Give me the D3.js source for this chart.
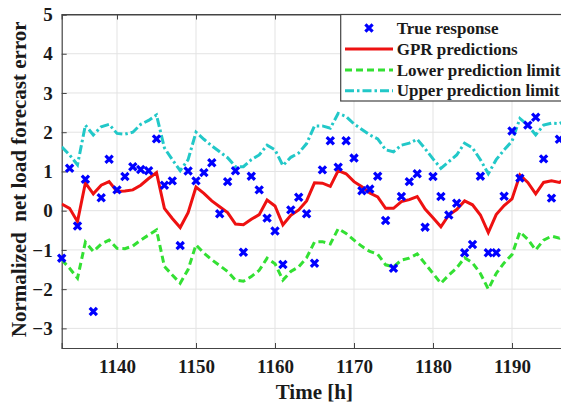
<!DOCTYPE html>
<html lang="en">
<head>
    <meta charset="UTF-8">
    <script src="https://d3js.org/d3.v7.min.js"></script>
    <title>GPR forecast error</title>
    <style>
        body { margin: 0; background: white; }
        svg { display: block; font-family: "Liberation Serif", "Times New Roman", serif; font-weight: bold; }
    </style>
</head>
<body>
    <div id="chart"></div>
    <script>
        // hourly time axis
        const hours = d3.range(1133, 1198);

        // GPR predictions (1133..1197)
        const gprPred = [
            0.17, 0.06, -0.28, 0.71, 0.43, 0.65, 0.74, 0.49, 0.50, 0.53,
            0.65, 0.82, 0.97, 0.06, -0.20, -0.43, -0.05, 0.60, 0.44, 0.25,
            0.10, -0.05, -0.34, -0.36, -0.22, -0.10, 0.27, 0.12, -0.36, -0.12,
            0.02, 0.25, 0.71, 0.70, 0.62, 1.02, 0.94, 0.74, 0.61, 0.45,
            0.35, 0.06, 0.06, 0.23, 0.28, 0.36, 0.04, -0.18, -0.41, -0.11,
            0.03, 0.25, 0.15, -0.11, -0.56, -0.10, 0.13, 0.30, 0.91, 0.72,
            0.43, 0.72, 0.76, 0.72, 0.85
        ];

        const upperLimit = [
            1.63, 1.42, 1.17, 2.18, 1.93, 2.14, 2.20, 1.97, 1.95, 2.00,
            2.20, 2.30, 2.44, 1.60, 1.30, 1.02, 1.30, 2.00, 1.82, 1.65,
            1.50, 1.35, 1.12, 1.12, 1.30, 1.42, 1.67, 1.55, 1.15, 1.36,
            1.47, 1.71, 2.16, 2.16, 2.10, 2.48, 2.40, 2.21, 2.07, 1.93,
            1.83, 1.55, 1.50, 1.67, 1.72, 1.82, 1.58, 1.32, 1.08, 1.25,
            1.42, 1.72, 1.60, 1.30, 0.94, 1.30, 1.55, 1.77, 2.35, 2.18,
            1.93, 2.18, 2.23, 2.22, 2.30
        ];

        const lowerLimit = [
            -1.25, -1.47, -1.72, -0.80, -1.04, -0.85, -0.75, -0.96, -0.97, -0.90,
            -0.75, -0.62, -0.49, -1.42, -1.64, -1.85, -1.50, -0.87, -1.08, -1.25,
            -1.40, -1.55, -1.77, -1.80, -1.68, -1.52, -1.21, -1.35, -1.77, -1.55,
            -1.43, -1.20, -0.80, -0.79, -0.85, -0.46, -0.58, -0.75, -0.91, -1.04,
            -1.11, -1.38, -1.43, -1.26, -1.21, -1.10, -1.35, -1.60, -1.85, -1.64,
            -1.46, -1.20, -1.33, -1.60, -2.00, -1.60, -1.33, -1.12, -0.54, -0.73,
            -1.00, -0.75, -0.65, -0.70, -0.60
        ];

        // true response (1133..1196)
        const trueResp = [
            -1.21, 1.08, -0.39, 0.80, -2.57, 0.33, 1.31, 0.53, 0.87, 1.12,
            1.05, 1.02, 1.83, 0.65, 0.76, -0.89, 1.01, 0.76, 0.97, 1.22,
            -0.08, 0.74, 1.02, -1.06, 0.88, 0.53, -0.19, -0.52, -1.37, 0.02,
            0.34, -0.08, -1.34, 1.04, 1.78, 1.11, 1.78, 1.34, 0.51, 0.55,
            0.88, -0.25, -1.47, 0.36, 0.74, 0.94, -0.42, 0.87, 0.36, -0.11,
            0.19, -1.07, -0.86, 0.88, -1.07, -1.07, 0.37, 2.03, 0.83, 2.18,
            2.38, 1.32, 0.32, 1.82
        ];

        const xTicks = [1140, 1150, 1160, 1170, 1180, 1190];
        const yTicks = [-3, -2, -1, 0, 1, 2, 3, 4, 5];

        const legendItems = ["True response", "GPR predictions", "Lower prediction limit", "Upper prediction limit"];

        /*------------------- Setup --------------------*/
        const width = 561, height = 406;
        const plot = { left: 61.7, top: 14.5, bottom: 348 };

        const svg = d3.select("#chart").append("svg")
            .attr("width", width)
            .attr("height", height);

        const x = d3.scaleLinear().domain([1133, 1200]).range([plot.left, plot.left + 67 * 7.9]);
        const y = d3.scaleLinear().domain([-3.5, 5]).range([plot.bottom, plot.top]);
        const plotRight = x.range()[1];

        svg.append("defs").append("clipPath").attr("id", "clip")
            .append("rect")
            .attr("x", plot.left).attr("y", plot.top)
            .attr("width", plotRight - plot.left).attr("height", plot.bottom - plot.top);

        // grid
        const grid = svg.append("g");
        grid.selectAll(".gx").data(xTicks).enter().append("line")
            .attr("x1", d => x(d)).attr("x2", d => x(d))
            .attr("y1", plot.top).attr("y2", plot.bottom)
            .attr("stroke", "#e3e3e3").attr("stroke-width", 1);
        grid.selectAll(".gy").data(yTicks).enter().append("line")
            .attr("x1", plot.left).attr("x2", plotRight)
            .attr("y1", d => y(d)).attr("y2", d => y(d))
            .attr("stroke", "#e3e3e3").attr("stroke-width", 1);

        // axes
        const xAxis = d3.axisBottom(x).tickValues(xTicks).tickSize(-5).tickPadding(12).tickFormat(d3.format("d"));
        const gx = svg.append("g").attr("transform", `translate(0,${plot.bottom})`).call(xAxis);
        const xTop = d3.axisTop(x).tickValues(xTicks).tickSize(-5).tickFormat("");
        const gxt = svg.append("g").attr("transform", `translate(0,${plot.top})`).call(xTop);
        const yAxis = d3.axisLeft(y).tickValues(yTicks).tickSize(-5).tickPadding(9).tickFormat(d3.format("d"));
        const gy = svg.append("g").attr("transform", `translate(${plot.left},0)`).call(yAxis);

        [gx, gxt, gy].forEach(g => {
            g.select(".domain").attr("stroke", "#444").attr("stroke-width", 1.2);
            g.selectAll(".tick line").attr("stroke", "#444");
            g.selectAll("text")
                .attr("fill", "#1a1a1a")
                .style("font-family", "'Liberation Serif', 'Times New Roman', serif")
                .style("font-weight", "bold")
                .style("font-size", "19px");
        });

        svg.append("text")
            .attr("x", (plot.left + 561) / 2 + 3)
            .attr("y", 399)
            .attr("text-anchor", "middle")
            .attr("fill", "#1a1a1a")
            .style("font-size", "21px")
            .text("Time [h]");

        svg.append("text")
            .attr("transform", `translate(26,${(plot.top + plot.bottom) / 2 - 2}) rotate(-90)`)
            .attr("text-anchor", "middle")
            .attr("fill", "#1a1a1a")
            .style("font-size", "21px")
            .style("white-space", "pre")
            .text("Normalized  net load forecast error");

        /*------------------- Marks --------------------*/
        const body = svg.append("g").attr("clip-path", "url(#clip)");

        const xMark = (g, cx, cy, r) => {
            g.append("path")
                .attr("d", `M${cx - r},${cy - r}L${cx + r},${cy + r}M${cx - r},${cy + r}L${cx + r},${cy - r}`)
                .attr("stroke", "#0000ff")
                .attr("stroke-width", 3.2)
                .attr("fill", "none");
        };

        const markers = svg.append("g");
        trueResp.forEach((v, i) => xMark(markers, x(hours[i]), y(v), 3.6));

        const line = vals => d3.line()
            .x((d, i) => x(hours[i]))
            .y(d => y(d))(vals);

        body.append("path").attr("d", line(gprPred))
            .attr("fill", "none").attr("stroke", "#ee1111").attr("stroke-width", 3);
        body.append("path").attr("d", line(lowerLimit))
            .attr("fill", "none").attr("stroke", "#33e033").attr("stroke-width", 3)
            .attr("stroke-dasharray", "7,4");
        body.append("path").attr("d", line(upperLimit))
            .attr("fill", "none").attr("stroke", "#22c8c8").attr("stroke-width", 3)
            .attr("stroke-dasharray", "9,3,2.5,3");

        // top border line drawn across
        svg.append("line")
            .attr("x1", plot.left).attr("x2", plotRight)
            .attr("y1", plot.top).attr("y2", plot.top)
            .attr("stroke", "#444").attr("stroke-width", 1.2);

        /*------------------- Legend --------------------*/
        const legend = svg.append("g");
        legend.append("rect")
            .attr("x", 340.7).attr("y", plot.top)
            .attr("width", 300).attr("height", 101 - plot.top)
            .attr("fill", "white").attr("stroke", "#444").attr("stroke-width", 1.2);

        const rowY = [28, 49, 70, 90.7];
        xMark(legend, 369, rowY[0], 3.6);
        const sample = [null,
            { color: "#ee1111", dash: null },
            { color: "#33e033", dash: "7,4" },
            { color: "#22c8c8", dash: "9,3,2.5,3" }];
        sample.forEach((s, i) => {
            if (!s) return;
            legend.append("line")
                .attr("x1", 345).attr("x2", 393)
                .attr("y1", rowY[i]).attr("y2", rowY[i])
                .attr("stroke", s.color).attr("stroke-width", 3)
                .attr("stroke-dasharray", s.dash);
        });
        legend.selectAll(".lt").data(legendItems).enter().append("text")
            .attr("x", 396.7)
            .attr("y", (d, i) => rowY[i] + 5.5)
            .attr("fill", "#1a1a1a")
            .style("font-size", "17px")
            .text(d => d);
    </script>
</body>
</html>
